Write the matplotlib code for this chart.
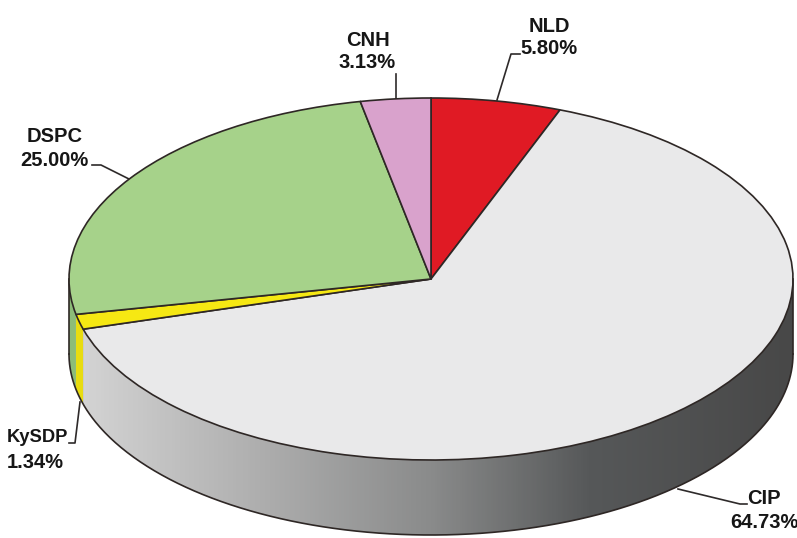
import numpy as np
import matplotlib
matplotlib.use("Agg")
import matplotlib.pyplot as plt
from matplotlib.colors import LinearSegmentedColormap
from matplotlib.patches import Polygon

plt.rcParams["font.family"] = ["Liberation Sans", "DejaVu Sans"]

## Data, clockwise from 12 o'clock
names = ["NLD", "CIP", "KySDP", "DSPC", "CNH"]
shares = [5.80, 64.73, 1.34, 25.00, 3.13]
colors = ["#e01a24", "#e9e9ea", "#f6e813", "#a6d28a", "#d9a2cc"]
wall_colors = ["#b01820", "#888888", "#e8dc10", "#8cbc78", "#b080a8"]

## Geometry in image pixels
W, H = 797, 538
cx, cy = 431, 279
rx, ry = 362, 181
depth = 75
edge = "#2e2725"

fig = plt.figure(figsize=(W / 100, H / 100), dpi=100)

# pixel axes underneath: walls and leader lines
ax_px = fig.add_axes([0, 0, 1, 1], zorder=0)
ax_px.axis("off")

# pie axes on top: unit circle squashed to the ellipse by the limits
ax = fig.add_axes([0, 0, 1, 1], zorder=1)
ax.patch.set_visible(False)
ax.pie(shares, colors=colors, startangle=90, counterclock=False,
       wedgeprops=dict(edgecolor=edge, linewidth=1.2))
ax.set_aspect("auto")
ax.set_xlim(-cx / rx, (W - cx) / rx)
ax.set_ylim((cy - H) / ry, cy / ry)
ax.axis("off")


def wall_points(t0, t1):
    t = np.radians(np.linspace(t0, t1, 200))
    x = cx + rx * np.sin(t)
    y = cy - ry * np.cos(t)
    return np.vstack([np.column_stack([x, y]),
                      np.column_stack([x[::-1], y[::-1] + depth])])


grey = LinearSegmentedColormap.from_list(
    "wall", [(0.0, "#d6d6d6"), (0.25, "#b0b0b0"), (0.5, "#8a8b8b"),
             (0.72, "#565859"), (1.0, "#484848")])

edges = np.cumsum([0] + shares) * 3.6
for i, name in enumerate(names):
    t0, t1 = max(edges[i], 90), min(edges[i + 1], 270)
    if t0 >= t1:
        continue
    poly = Polygon(wall_points(t0, t1), closed=True, facecolor=wall_colors[i],
                   edgecolor="none", zorder=1)
    ax_px.add_patch(poly)
    if name == "CIP":
        img = ax_px.imshow(np.linspace(0, 1, 400)[None, :], cmap=grey, aspect="auto",
                           extent=(cx - rx, cx + rx, H, 0), zorder=2,
                           vmin=0.0, vmax=1.0)
        img.set_clip_path(poly)

# rim of the side wall
t = np.radians(np.linspace(90, 270, 400))
ax_px.plot(cx + rx * np.sin(t), cy - ry * np.cos(t) + depth, color=edge, lw=1.2, zorder=3)
ax_px.plot([cx + rx, cx + rx], [cy, cy + depth], color=edge, lw=1.2, zorder=3)
ax_px.plot([cx - rx, cx - rx], [cy, cy + depth], color=edge, lw=1.2, zorder=3)

# leader lines
leaders = {
    "NLD": [(497, 100), (511, 54), (520, 54)],
    "CIP": [(678, 489), (740, 504), (747, 504)],
    "KySDP": [(69, 443), (75, 443), (80, 402)],
    "DSPC": [(92, 165), (101, 165), (129, 179)],
    "CNH": [(396, 74), (396, 99)],
}
for name in names:
    xs, ys = zip(*leaders[name])
    ax_px.plot(xs, ys, color="#2e2a2a", lw=1.2, zorder=4)

# labels: centre x and y of the name and of the share
label_pos = {
    "NLD": (549, 26, 549, 49, "center"),
    "CIP": (764, 499, 764, 522, "center"),
    "KySDP": (7, 438, 7, 462, "left"),
    "DSPC": (55, 136, 54, 160, "center"),
    "CNH": (368, 40, 367, 63, "center"),
}
name_size = {"KySDP": 13.2}
for name, share in zip(names, shares):
    x1, y1, x2, y2, ha = label_pos[name]
    ax_px.text(x1, y1, name, ha=ha, va="center", fontsize=name_size.get(name, 14.5),
               fontweight="bold", color="#161616")
    ax_px.text(x2, y2, f"{share:.2f}%", ha=ha, va="center", fontsize=14.5, fontweight="bold",
               color="#161616")

ax_px.set_xlim(0, W)
ax_px.set_ylim(H, 0)

fig.savefig("out.png", dpi=100)
